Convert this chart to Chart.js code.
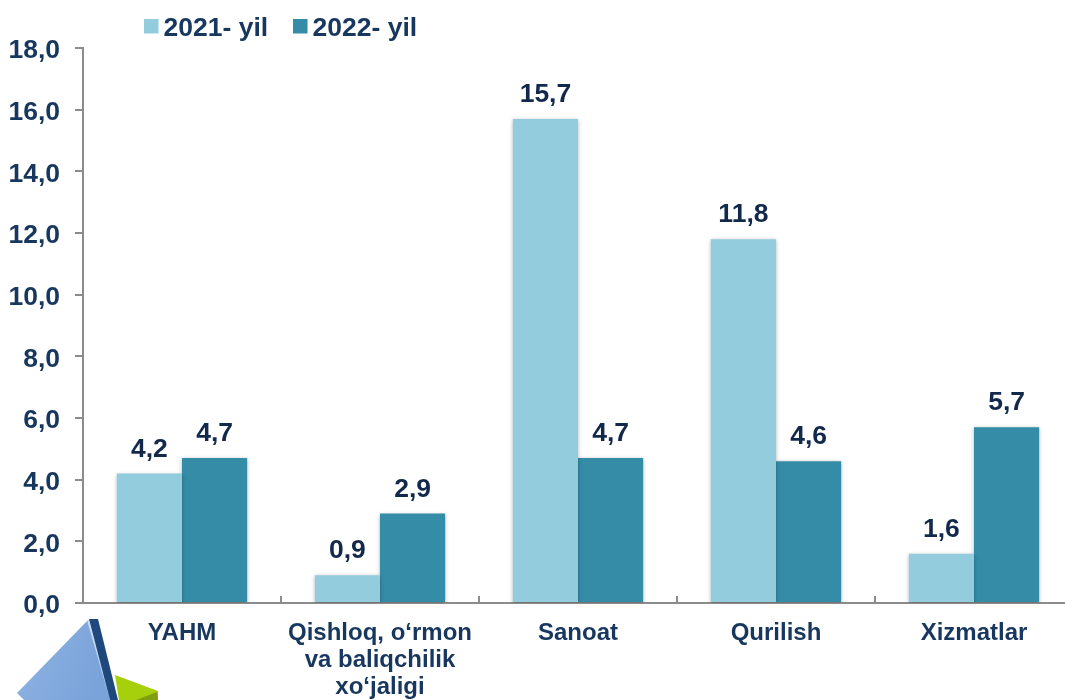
<!DOCTYPE html>
<html><head><meta charset="utf-8">
<style>html,body{margin:0;padding:0;background:#fff;overflow:hidden}canvas{display:block}</style>
<script src="https://cdn.jsdelivr.net/npm/chart.js@4"></script></head>
<body><div style="width:1065px;height:700px;position:relative;overflow:hidden"><canvas id="c" width="1080" height="700"></canvas>
<svg width="170" height="85" viewBox="0 615 170 85" style="position:absolute;left:0;top:615px">
<defs><linearGradient id="g" x1="0" y1="0" x2="1" y2="0.3"><stop offset="0" stop-color="#8fb3e3"/><stop offset="1" stop-color="#7aa3da"/></linearGradient></defs>
<polygon points="115,675 158,691 158,700 119,700" fill="#a6cf0c"/>
<polygon points="136,700 157,692 158,700" fill="#7f9e10"/>
<polygon points="17,693 88,620 111,700 24,700" fill="url(#g)"/>
<polyline points="88,620 111,700" fill="none" stroke="#c9dcf5" stroke-width="2"/>
<polygon points="89,619 98,619 118,700 110,700" fill="#1f497d"/>
</svg></div>
<script>
const categories=["YAHM",["Qishloq, o‘rmon","va baliqchilik","xo‘jaligi"],"Sanoat","Qurilish","Xizmatlar"];
const series2021=[4.2,0.9,15.7,11.8,1.6];
const series2022=[4.7,2.9,4.7,4.6,5.7];
const legendBoxX=[144,293];
const font="'Liberation Sans'";
const navy='#17375e';
const labelsPlugin={id:'vals',
beforeDatasetsDraw(ch){const c=ch.ctx;c.save();c.shadowColor='rgba(0,0,0,0.3)';c.shadowBlur=4;c.shadowOffsetY=1;},
afterDatasetsDraw(ch){const c=ch.ctx;c.restore();c.save();c.font="bold 26.5px "+font;c.fillStyle='#13294b';c.textAlign='center';c.textBaseline='alphabetic';
ch.data.datasets.forEach((d,i)=>{ch.getDatasetMeta(i).data.forEach((b,j)=>{c.fillText(d.data[j].toFixed(1).replace('.',','),b.x,b.y-17)})});
c.font="bold 26.5px "+font;c.fillStyle=navy;c.textAlign='left';
ch.data.datasets.forEach((d,i)=>{c.fillStyle=d.backgroundColor;c.fillRect(legendBoxX[i],19,14.5,14.5);c.fillStyle=navy;c.fillText(d.label,legendBoxX[i]+19.5,36)});
c.restore();}};
new Chart(document.getElementById('c'),{type:'bar',plugins:[labelsPlugin],data:{labels:categories,datasets:[
{label:'2021- yil',data:series2021,backgroundColor:'#93cddd'},
{label:'2022- yil',data:series2022,backgroundColor:'#358ca6'}]},
options:{responsive:false,animation:false,layout:{padding:{left:0,right:7,top:48,bottom:0}},
plugins:{tooltip:{enabled:false},legend:{display:false}},
datasets:{bar:{categoryPercentage:0.658,barPercentage:1}},
scales:{y:{min:0,max:18,afterFit(s){s.width=83},ticks:{stepSize:2,color:navy,padding:15,labelOffset:3,font:{family:font,size:26.5,weight:'bold'},callback:v=>v.toFixed(1).replace('.',',')},grid:{drawOnChartArea:false,color:'#8c8c8c',lineWidth:2,tickLength:8},border:{color:'#8c8c8c',width:2}},
x:{afterFit(s){s.height=97},ticks:{color:navy,maxRotation:0,padding:24,font:{family:font,size:24,weight:'bold',lineHeight:1.12}},grid:{drawOnChartArea:false,color:'#8c8c8c',lineWidth:2,tickLength:-7},border:{color:'#8c8c8c',width:2}}}}});
</script></body></html>
